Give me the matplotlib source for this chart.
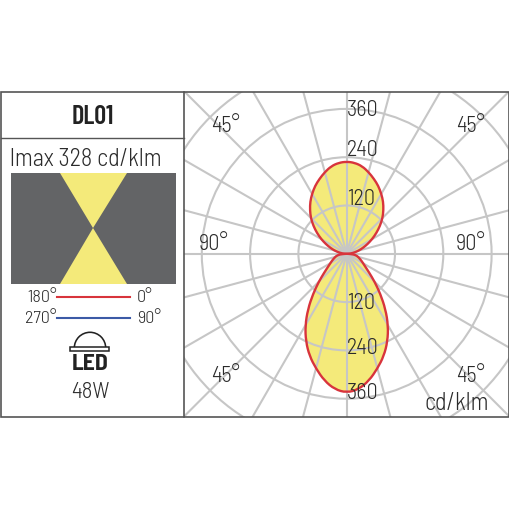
import numpy as np
from matplotlib import pyplot as plt
from matplotlib.patches import Circle, PathPatch, Polygon, Rectangle, Wedge
from matplotlib.path import Path

plt.rcParams['font.family'] = ['Barlow Semi Condensed', 'Roboto Condensed', 'Liberation Sans Narrow', 'Liberation Sans', 'DejaVu Sans']
plt.rcParams['font.weight'] = 300

# photometric curve, degrees from the vertical and cd/klm (left/right mirrored)
angles = [0, 5, 10, 15, 20, 25, 30, 35, 40, 45, 50, 55, 60, 65, 70, 75, 80, 85, 90]
lower_cd = [345, 338, 320, 295, 270, 240, 206, 168, 130, 98, 73, 57, 47, 40, 34, 29, 24, 17, 3]
upper_cd = [229, 227, 221, 210, 198, 186, 172, 158, 142, 126, 108, 90, 73, 57, 43, 31, 20, 11, 3]

ring_values = [120, 240, 360, 480]
spoke_step = 15

title = 'DL01'
imax_label = 'lmax 328 cd/klm'
power_label = '48W'

GRID = '#c6c6c6'
RED = '#d8343c'
BLUE = '#3c5aa6'
YELLOW = '#f4ea7a'
DARK = '#636466'
FRAME = '#555555'
TEXT = '#2b2b2b'

PX_PER_CD = 0.4025
CX, CY = 346.7, 254.8


def lobe(vals, sign):
    # rounded closed curve, the read points are the bezier controls
    a = np.radians(np.r_[-np.array(angles)[::-1], angles[1:]])
    v = np.r_[np.array(vals)[::-1], vals[1:]]
    pts = np.c_[v * np.sin(a), sign * v * np.cos(a)]
    mids = (pts + np.roll(pts, -1, axis=0)) / 2
    verts = [mids[-1]]
    codes = [Path.MOVETO]
    for p, m in zip(pts, mids):
        verts += [p, m]
        codes += [Path.CURVE3, Path.CURVE3]
    return Path(verts, codes, closed=False)


fig = plt.figure(figsize=(5.1, 5.1), dpi=100)

# polar diagram in cd/klm, clipped to the right panel
left, right, top, bottom = 184, 509, 92.5, 418
pol = fig.add_axes([left / 510, 1 - bottom / 510, (right - left) / 510, (bottom - top) / 510])
pol.set_xlim((left - CX) / PX_PER_CD, (right - CX) / PX_PER_CD)
pol.set_ylim((CY - bottom) / PX_PER_CD, (CY - top) / PX_PER_CD)
pol.axis('off')

# left panel, frame and all text, in picture pixels
ax = fig.add_axes([0, 0, 1, 1])
ax.set_xlim(0, 510)
ax.set_ylim(510, 0)
ax.axis('off')

for sign, vals in ((1, upper_cd), (-1, lower_cd)):
    pol.add_patch(PathPatch(lobe(vals, sign), fc=YELLOW, ec='none', zorder=1))

for rv in ring_values:
    pol.add_patch(Circle((0, 0), rv, fc='none', ec=GRID, lw=1.5, zorder=2))
for deg in range(0, 360, spoke_step):
    t = np.radians(deg)
    pol.plot([0, 700 * np.sin(t)], [0, 700 * np.cos(t)], color=GRID, lw=1.5, zorder=2,
             solid_capstyle='butt')

for sign, vals in ((1, upper_cd), (-1, lower_cd)):
    pol.add_patch(PathPatch(lobe(vals, sign), fc='none', ec=RED, lw=1.7, zorder=3))

pol_labels = [('360', 347, 110), ('240', 347, 151), ('120', 347, 200),
              ('120', 347, 304), ('240', 347, 349), ('360', 347, 394)]
for s, x, y in pol_labels:
    ax.text(x, y, s, fontsize=16, color=TEXT, ha='left', va='center', zorder=5)
for s, x, y in [('45°', 211, 127), ('45°', 456, 127), ('90°', 199, 245), ('90°', 456, 245),
                ('45°', 211, 377), ('45°', 456, 377)]:
    ax.text(x, y, s, fontsize=16, color=TEXT, ha='left', va='center', zorder=5)
ax.text(425, 404, 'cd/klm', fontsize=17.5, color=TEXT, ha='left', va='center', zorder=5)

# frame
ax.add_patch(Rectangle((1, 92.5), 508, 325.5, fc='none', ec=FRAME, lw=1.2, zorder=6))
ax.plot([184, 184], [92.5, 418], color=FRAME, lw=1.2, zorder=6)
ax.plot([1, 184], [139, 139], color=FRAME, lw=1.0, zorder=6)

ax.text(93, 116.5, title, fontsize=19, fontweight=600, family=['Barlow Condensed', 'Liberation Sans'],
        color='#222222', ha='center', va='center')
ax.text(10, 160, imax_label, fontsize=17.5, color=TEXT, ha='left', va='center')

# beam picture
ax.add_patch(Rectangle((11, 174), 165, 111, fc=DARK, ec='none'))
ax.add_patch(Polygon([(60, 174), (127, 174), (93, 229)], fc=YELLOW, ec='none'))
ax.add_patch(Polygon([(60, 285), (127, 285), (93, 229)], fc=YELLOW, ec='none'))

# line key
ax.plot([57, 130], [298, 298], color=RED, lw=1.5)
ax.plot([57, 130], [319, 319], color=BLUE, lw=1.5)
ax.text(57, 298.5, '180°', fontsize=13, color=TEXT, ha='right', va='center')
ax.text(137, 298.5, '0°', fontsize=13, color=TEXT, ha='left', va='center')
ax.text(57, 319.5, '270°', fontsize=13, color=TEXT, ha='right', va='center')
ax.text(137, 319.5, '90°', fontsize=13, color=TEXT, ha='left', va='center')

# led icon
ax.add_patch(Wedge((90, 349), 16.5, 180, 360, width=1.6, fc='#222222', ec='none'))
ax.add_patch(Rectangle((70.5, 347.5), 39, 4, fc='white', ec='#222222', lw=1.1))
ax.text(90.5, 364, 'LED', fontsize=17, fontweight=700, color='#222222', ha='center', va='center')
ax.text(90, 392.5, power_label, fontsize=16.5, color=TEXT, ha='center', va='center')

plt.savefig('out.png', dpi=100)
plt.close()
